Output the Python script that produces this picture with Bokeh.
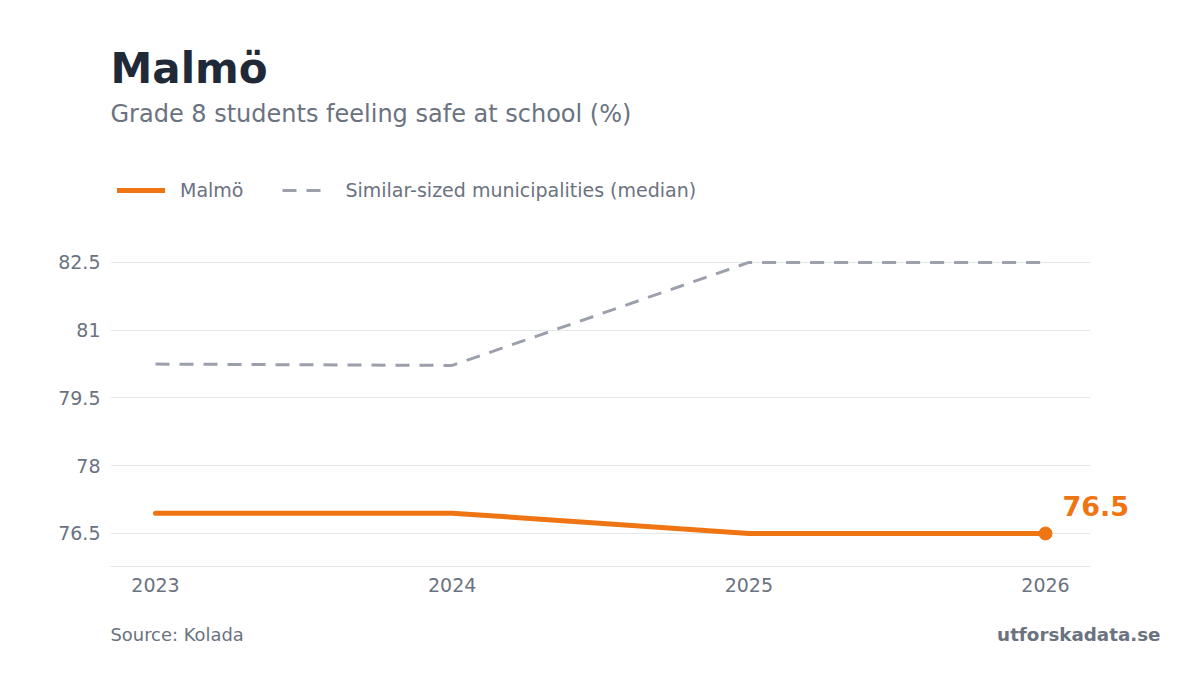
from bokeh.plotting import figure
from bokeh.layouts import column
from bokeh.models import (ColumnDataSource, Label, Legend, LegendItem, FixedTicker, Range1d)
from bokeh.embed import file_html
from bokeh.resources import INLINE

# ---- data ----
years = [2023, 2024, 2025, 2026]
malmo = [76.95, 76.95, 76.5, 76.5]
median = [80.25, 80.22, 82.5, 82.5]
y_ticks = [76.5, 78, 79.5, 81, 82.5]
y_tick_labels = ["76.5", "78", "79.5", "81", "82.5"]
x_ticks = [2023, 2024, 2025, 2026]
x_tick_labels = ["2023", "2024", "2025", "2026"]
title_text = "Malmö"
subtitle_text = "Grade 8 students feeling safe at school (%)"
series_names = ["Malmö", "Similar-sized municipalities (median)"]
source_text = "Source: Kolada"
brand_text = "utforskadata.se"

ORANGE = "#EF7512"
GREY_LINE = "#9CA0AD"
TEXT_GREY = "#6B7280"
TITLE_COL = "#1F2937"
GRID = "#E5E7EB"
FONT = "DejaVu Sans"

W = 1184
X_VIS = (2022.8483, 2026.1517)   # visible plotting area (grid / axis extent)
p = figure(width=W, height=600, output_backend="svg", toolbar_location=None,
           x_range=Range1d(2022.8483, 2026.4685), y_range=Range1d(75.769, 88.299),
           min_border_left=110, min_border_right=0, min_border_top=0, min_border_bottom=34)
p.frame_align = False
p.outline_line_color = None
p.background_fill_color = "white"
p.border_fill_color = "white"

src_m = ColumnDataSource(dict(x=years, y=malmo))
src_d = ColumnDataSource(dict(x=years, y=median))

r_d = p.line("x", "y", source=src_d, line_color=GREY_LINE, line_width=3, line_dash="14 10")
r_m = p.line("x", "y", source=src_m, line_color=ORANGE, line_width=5, line_cap="round", line_join="round")
last = ColumnDataSource(dict(x=years[-1:], y=malmo[-1:]))
p.scatter("x", "y", source=last, size=13, fill_color=ORANGE, line_color=ORANGE)

# axes
p.xaxis.ticker = FixedTicker(ticks=x_ticks)
p.xaxis.major_label_overrides = {t: l for t, l in zip(x_ticks, x_tick_labels)}
p.yaxis.ticker = FixedTicker(ticks=y_ticks)
p.yaxis.major_label_overrides = {t: l for t, l in zip(y_ticks, y_tick_labels)}
for ax in (p.xaxis, p.yaxis):
    ax.major_tick_line_color = None
    ax.minor_tick_line_color = None
    ax.major_label_text_color = TEXT_GREY
    ax.major_label_text_font = FONT
    ax.major_label_text_font_size = "19px"
p.xaxis.axis_line_color = GRID
p.xaxis.axis_line_width = 1
p.xaxis.bounds = X_VIS
p.yaxis.axis_line_color = None
p.xaxis.major_label_standoff = 5
p.yaxis.major_label_standoff = 4
p.xgrid.grid_line_color = None
p.ygrid.grid_line_color = GRID
p.ygrid.grid_line_width = 1
p.ygrid.cross_bounds = X_VIS

# end label
p.add_layout(Label(x=years[-1], y=malmo[-1], x_offset=17, y_offset=27, text=f"{malmo[-1]:.1f}",
                   text_color=ORANGE, text_font=FONT, text_font_style="bold",
                   text_font_size="27px", text_baseline="alphabetic"))

# legend
legend = Legend(items=[LegendItem(label=series_names[0], renderers=[r_m]),
                       LegendItem(label=series_names[1], renderers=[r_d])],
                orientation="horizontal", location=(7, 364.5),
                glyph_width=48, glyph_height=24, label_height=24, label_standoff=15,
                spacing=39, padding=0, margin=0,
                background_fill_alpha=0, border_line_alpha=0,
                label_text_font=FONT, label_text_font_size="19px", label_text_color=TEXT_GREY)
p.add_layout(legend)

# titles (screen units relative to frame)
p.add_layout(Label(x=0, y=498, x_units="screen", y_units="screen", text=title_text,
                   text_font=FONT, text_font_style="bold", text_font_size="42px",
                   text_color=TITLE_COL, text_baseline="alphabetic"))
p.add_layout(Label(x=0, y=453, x_units="screen", y_units="screen", text=subtitle_text,
                   text_font=FONT, text_font_size="24px",
                   text_color=TEXT_GREY, text_baseline="alphabetic"))

# footer figure
f = figure(width=W, height=59, output_backend="svg", toolbar_location=None,
           x_range=Range1d(0, W), y_range=Range1d(0, 59),
           x_axis_type=None, y_axis_type=None,
           min_border_left=0, min_border_right=0, min_border_top=0, min_border_bottom=0)
f.frame_align = False
f.outline_line_color = None
f.xgrid.grid_line_color = None
f.ygrid.grid_line_color = None
f.background_fill_color = "white"
f.border_fill_color = "white"
f.add_layout(Label(x=110, y=25.5, x_units="screen", y_units="screen", text=source_text,
                   text_font=FONT, text_font_size="17.9px",
                   text_color=TEXT_GREY, text_baseline="alphabetic"))
f.add_layout(Label(x=1160, y=25.5, x_units="screen", y_units="screen", text=brand_text,
                   text_font=FONT, text_font_style="bold", text_font_size="18.3px",
                   text_color=TEXT_GREY, text_baseline="alphabetic", text_align="right"))

layout = column(p, f, spacing=0)
open("out.html", "w").write(file_html(layout, INLINE))
